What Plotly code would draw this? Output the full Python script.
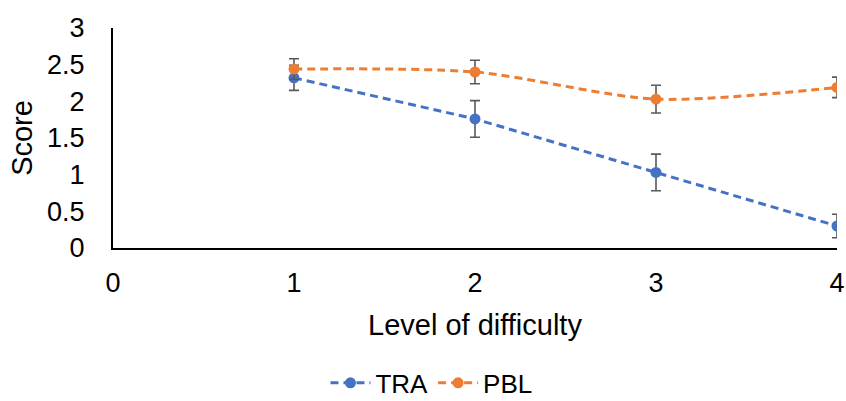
import plotly.graph_objects as go

levels = [1, 2, 3, 4]
tra = [2.32, 1.76, 1.03, 0.30]
tra_err = [0.17, 0.25, 0.25, 0.16]
pbl = [2.44, 2.40, 2.03, 2.19]
pbl_err = [0.14, 0.16, 0.19, 0.14]

blue = "#4472C4"
orange = "#ED7D31"
errc = "#595959"

fig = go.Figure()
fig.add_trace(go.Scatter(
    x=levels, y=tra, name="TRA", mode="lines+markers",
    line=dict(color=blue, width=3, dash="8px,5px"),
    marker=dict(color=blue, size=11),
    error_y=dict(type="data", array=tra_err, color=errc, thickness=1.6, width=5),
))
fig.add_trace(go.Scatter(
    x=levels, y=pbl, name="PBL", mode="lines+markers",
    line=dict(color=orange, width=3, dash="8px,5px", shape="spline", smoothing=0.8),
    marker=dict(color=orange, size=11),
    error_y=dict(type="data", array=pbl_err, color=errc, thickness=1.6, width=5),
))

font = "Liberation Sans, Arial, sans-serif"
fig.update_layout(
    width=846, height=401,
    margin=dict(l=113, r=9, t=28, b=153, autoexpand=False),
    paper_bgcolor="white", plot_bgcolor="white",
    font=dict(family=font, size=27, color="#000000"),
    showlegend=True,
    legend=dict(orientation="h", xref="container", x=0.51, xanchor="center",
                yref="container", y=0.045, yanchor="middle",
                font=dict(size=26), itemwidth=40, tracegroupgap=0),
    xaxis=dict(range=[0, 4], tickvals=[0, 1, 2, 3, 4], showgrid=False, zeroline=False,
               showline=True, linecolor="black", linewidth=2, automargin=False,
               ticks="outside", ticklen=10, tickcolor="rgba(0,0,0,0)",
               tickfont=dict(size=27),
               title=dict(text="Level of difficulty", font=dict(size=29), standoff=17)),
    yaxis=dict(range=[0, 3], tickvals=[0, 0.5, 1, 1.5, 2, 2.5, 3], showgrid=False, zeroline=False,
               showline=True, linecolor="black", linewidth=2, automargin=False,
               ticks="outside", ticklen=21, tickcolor="rgba(0,0,0,0)",
               tickfont=dict(size=27),
               title=dict(text="Score", font=dict(size=29), standoff=6)),
)
fig.write_html("out.html")
